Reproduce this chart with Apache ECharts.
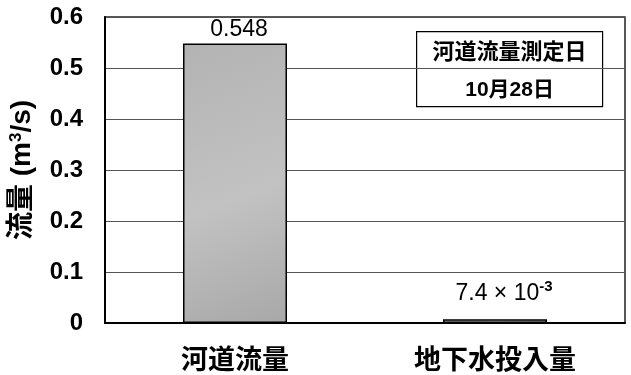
<!DOCTYPE html>
<html>
<head>
<meta charset="utf-8">
<script src="https://cdn.jsdelivr.net/npm/echarts@6/dist/echarts.min.js"></script>
<style>
  html, body { margin: 0; padding: 0; background: #fff; }
  #chart { width: 631px; height: 375px; }
</style>
</head>
<body>
<div id="chart"></div>
<script>
// Flow volumes (m3/s)
const categories = ['河道流量', '地下水投入量'];
const flowValues = [0.548, 0.0074];
const yMin = 0, yMax = 0.6, yStep = 0.1;
const noteLines = ['河道流量測定日', '10月28日'];

const FONT = '"Liberation Sans", "Noto Sans CJK JP", sans-serif';

// Small values are written in scientific form (a × 10^n)
function valueLabel(v) {
  if (v >= 0.01) return String(v);
  const exp = Math.floor(Math.log10(v));
  const mant = Math.round(v / Math.pow(10, exp) * 10) / 10;
  return '{m|' + mant + ' × 10}{s|' + exp + '}';
}

const chart = echarts.init(document.getElementById('chart'), null, { renderer: 'canvas' });

chart.setOption({
  animation: false,
  backgroundColor: '#fff',
  grid: {
    left: 102, right: 6, top: 17, bottom: 52,
    show: true, borderColor: '#222', borderWidth: 1.5
  },
  xAxis: {
    type: 'category',
    data: categories,
    axisLine: { lineStyle: { color: '#000', width: 2 } },
    axisTick: { show: false },
    axisLabel: {
      margin: 22, color: '#000', fontSize: 27, fontWeight: 'bold',
      fontFamily: '"Noto Sans CJK JP", sans-serif'
    }
  },
  yAxis: {
    type: 'value',
    min: yMin, max: yMax, interval: yStep,
    name: '流量 (m{sup|3}/s)',
    nameLocation: 'middle',
    nameRotate: 90,
    nameGap: 68,
    nameTextStyle: {
      color: '#000', fontSize: 28, fontWeight: 'bold', fontFamily: FONT,
      rich: {
        sup: { fontSize: 17, fontWeight: 'bold', fontFamily: FONT, verticalAlign: 'top', padding: [0, 0, 12, 0] }
      }
    },
    axisLine: { show: true, lineStyle: { color: '#000', width: 2 } },
    axisTick: { show: false },
    axisLabel: {
      margin: 22, color: '#000', fontSize: 24, fontWeight: 'bold', fontFamily: FONT,
      formatter: v => (v === 0 ? '0' : v.toFixed(1))
    },
    splitLine: { lineStyle: { color: '#555', width: 1 } }
  },
  series: [{
    type: 'bar',
    barWidth: '40%',
    data: flowValues.map((v, i) => ({
      value: v,
      label: i === 0
        ? { distance: 2, offset: [4, 0] }
        : { distance: 11, offset: [9, 0] }
    })),
    itemStyle: {
      color: new echarts.graphic.LinearGradient(0, 0, 1, 1, [
        { offset: 0, color: '#b3b3b3' },
        { offset: 0.55, color: '#c2c2c2' },
        { offset: 1, color: '#a8a8a8' }
      ]),
      borderColor: '#000',
      borderWidth: 1.5
    },
    label: {
      show: true,
      position: 'top',
      color: '#000',
      fontSize: 23,
      fontFamily: FONT,
      formatter: p => valueLabel(p.value),
      rich: {
        m: { fontSize: 23, fontFamily: FONT, color: '#000' },
        s: { fontSize: 15, fontFamily: FONT, color: '#000', fontWeight: 'bold', verticalAlign: 'top', padding: [0, 0, 14, 0] }
      }
    }
  }],
  graphic: [{
    type: 'group',
    left: 416, top: 31,
    children: [
      {
        type: 'rect',
        shape: { x: 0, y: 0, width: 186, height: 75 },
        style: { fill: '#fff', stroke: '#000', lineWidth: 1.2 }
      },
      {
        type: 'text',
        x: 93, y: 19,
        style: {
          text: noteLines[0], align: 'center', verticalAlign: 'middle',
          fontSize: 22, fontWeight: 'bold', fill: '#000',
          fontFamily: '"Noto Sans CJK JP", sans-serif'
        }
      },
      {
        type: 'text',
        x: 93, y: 59,
        style: {
          text: noteLines[1], align: 'center', verticalAlign: 'middle',
          fontSize: 21, fontWeight: 'bold', fill: '#000', fontFamily: FONT
        }
      }
    ]
  }]
});
</script>
</body>
</html>
